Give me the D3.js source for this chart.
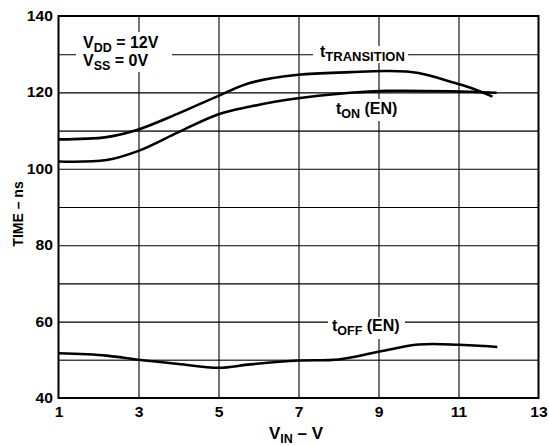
<!DOCTYPE html>
<html>
<head>
<meta charset="utf-8">
<script src="https://cdn.jsdelivr.net/npm/d3@7"></script>
<style>
  html, body { margin: 0; padding: 0; background: #fff; }
  svg { display: block; font-family: "Liberation Sans", Arial, Helvetica, sans-serif; font-weight: bold; }
</style>
</head>
<body>
<svg id="chart" width="549" height="446"></svg>
<script>
// Supply voltage sweep (V) and switching times (ns)
const xTicks = [1, 3, 5, 7, 9, 11, 13];
const yTicks = [40, 60, 80, 100, 120, 140];
const yGrid = [50, 60, 70, 80, 90, 100, 110, 120, 130];
const xGrid = [3, 5, 7, 9, 11];

const vinTransition = [1.0, 2.2, 3.0, 4.0, 5.0, 5.8, 7.0, 8.3, 9.2, 10.0, 10.8, 11.3, 11.85];
const tTransition   = [107.7, 108.3, 110.3, 114.5, 119.1, 122.5, 124.6, 125.3, 125.6, 125.1, 122.8, 121.2, 118.9];

const vinOn = [1.0, 2.2, 3.0, 4.0, 5.0, 5.8, 6.8, 8.3, 9.2, 10.8, 11.95];
const tOn   = [101.9, 102.3, 104.7, 109.6, 114.3, 116.3, 118.2, 119.9, 120.4, 120.3, 119.9];

const vinOff = [1.0, 2.2, 3.0, 4.0, 5.0, 5.8, 7.0, 8.0, 9.0, 10.0, 11.0, 11.97];
const tOff   = [51.7, 51.1, 50.0, 48.9, 47.9, 48.8, 49.8, 50.1, 52.1, 54.0, 53.95, 53.35];

const svg = d3.select("#chart");
const L = 58.5, R = 538.5, T = 16, B = 398;
const WIDE = "scale(1.12,1)";   // slightly extended lettering

const x = d3.scaleLinear().domain([1, 13]).range([L, R]);
const y = d3.scaleLinear().domain([40, 140]).range([B, T]);

// grid lines drawn as full-length axis ticks
const gridY = svg.append("g").attr("transform", `translate(${L},0)`)
  .call(d3.axisLeft(y).tickValues(yGrid).tickSize(-(R - L)).tickFormat(""));
gridY.select(".domain").remove();
gridY.selectAll(".tick line")
  .attr("stroke", d => (d === 50 || d === 110) ? "#444" : "#000")
  .attr("stroke-width", d => (d === 50 || d === 110) ? 1.6 : 1.1);

const gridX = svg.append("g").attr("transform", `translate(0,${B})`)
  .call(d3.axisBottom(x).tickValues(xGrid).tickSize(-(B - T)).tickFormat(""));
gridX.select(".domain").remove();
gridX.selectAll(".tick line").attr("stroke", "#000").attr("stroke-width", 1.1);

// frame
svg.append("rect").attr("x", L).attr("y", T).attr("width", R - L).attr("height", B - T)
  .attr("fill", "none").attr("stroke", "#000").attr("stroke-width", 2);

// tick labels
const xAxis = d3.axisBottom(x).tickValues(xTicks).tickSize(0).tickPadding(9).tickFormat(d3.format("d"));
const gx = svg.append("g").attr("transform", `translate(0,${B})`).call(xAxis);
gx.select(".domain").remove();
gx.selectAll("text").attr("font-size", 14).attr("font-weight", "bold")
  .attr("font-family", "Liberation Sans, Arial, sans-serif").attr("fill", "#000")
  .attr("transform", WIDE);

const yAxis = d3.axisLeft(y).tickValues(yTicks).tickSize(0).tickPadding(5).tickFormat(d3.format("d"));
const gy = svg.append("g").attr("transform", `translate(${L},0)`).call(yAxis);
gy.select(".domain").remove();
gy.selectAll("text").attr("font-size", 14).attr("font-weight", "bold")
  .attr("font-family", "Liberation Sans, Arial, sans-serif").attr("fill", "#000")
  .attr("transform", WIDE);

// white boxes behind labels, breaking the grid
function mask(x0, y0, w, h) {
  svg.append("rect").attr("x", x0).attr("y", y0).attr("width", w).attr("height", h).attr("fill", "#fff");
}
mask(76, 32, 96, 40);
mask(313, 46, 95, 17);
mask(332, 99, 72, 22);
mask(328, 317, 77, 22);

// curves
const line = d3.line().x(d => x(d[0])).y(d => y(d[1])).curve(d3.curveCatmullRom.alpha(0.5));
const curves = [
  d3.zip(vinTransition, tTransition),
  d3.zip(vinOn, tOn),
  d3.zip(vinOff, tOff)
];
svg.selectAll("path.curve").data(curves).join("path")
  .attr("class", "curve")
  .attr("d", line)
  .attr("fill", "none").attr("stroke", "#000").attr("stroke-width", 2.6)
  .attr("stroke-linejoin", "round");

// text with a subscript part
function sub(g, px, py, main, subTxt, rest, size, subSize, anchor, shift) {
  const s = shift || 4;
  const t = g.append("text").attr("x", px).attr("y", py).attr("font-size", size)
    .attr("text-anchor", anchor || "start").attr("fill", "#000");
  t.append("tspan").text(main);
  t.append("tspan").attr("font-size", subSize).attr("dy", s).text(subTxt);
  if (rest) t.append("tspan").attr("dy", -s).text(rest);
  return t;
}

const labels = svg.append("g");
sub(labels, 83, 48, "V", "DD", " = 12V", 16, 12.5);
sub(labels, 83, 66, "V", "SS", " = 0V", 16, 12.5);
sub(labels, 320, 57, "t", "TRANSITION", null, 16, 13);
sub(labels, 336, 114, "t", "ON", " (EN)", 16, 12.5);
sub(labels, 332, 331, "t", "OFF", " (EN)", 16, 12.5);

// axis titles
svg.append("text").attr("transform", `translate(23,214) rotate(-90)`)
  .attr("text-anchor", "middle").attr("font-size", 14).attr("fill", "#000").text("TIME – ns");
sub(svg, 296, 439, "V", "IN", " – V", 17, 12.5, "middle", 3.5);
</script>
</body>
</html>
